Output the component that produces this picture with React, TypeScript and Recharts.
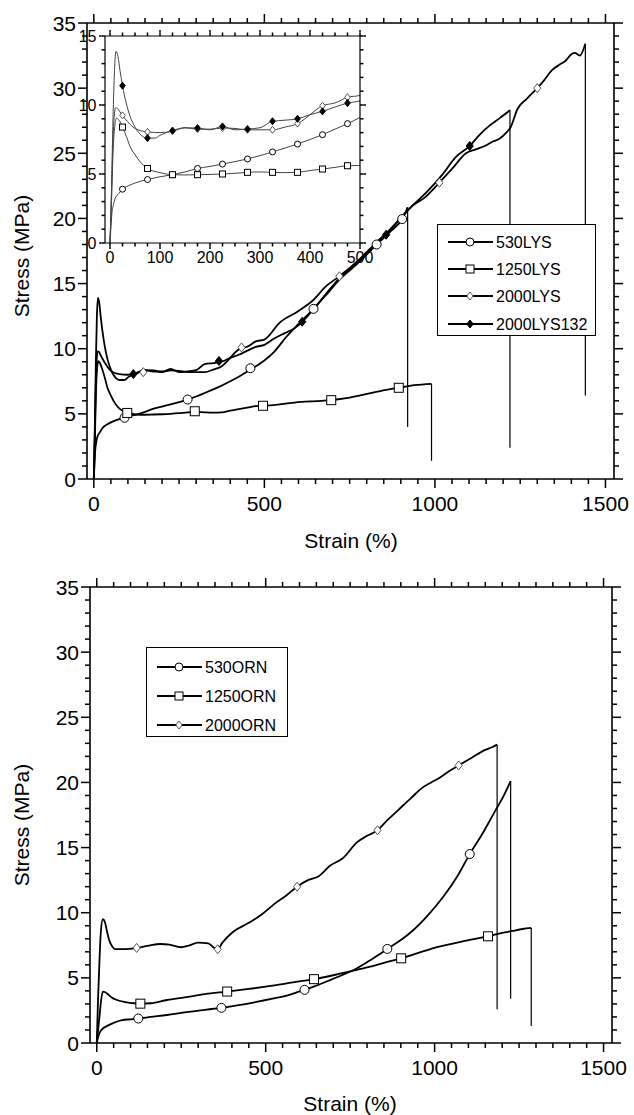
import { ComposedChart, Line, Scatter, XAxis, YAxis } from 'recharts';

type Pt = [number, number];
type Kind = 'circle' | 'square' | 'diamond' | 'filled';

const FONT = '"Liberation Sans", Arial, Helvetica, sans-serif';

// ---- top panel (LYS), strain % vs stress MPa ----
const lys530: Pt[] = [
  [0, 0], [2, 1.2], [4, 2.2], [7, 2.8], [10, 3.2], [18, 3.6], [25, 3.9], [40, 4.2], [50, 4.35], [75, 4.6],
  [100, 4.8], [125, 4.95], [150, 5.15], [175, 5.4], [200, 5.55], [225, 5.72], [250, 5.9], [275, 6.09],
  [300, 6.33], [325, 6.6], [350, 6.88], [375, 7.17], [400, 7.5], [425, 7.85], [450, 8.25], [475, 8.65],
  [500, 9.1], [530, 9.8], [564, 10.9], [600, 11.9], [644, 13.06], [680, 14.1], [720, 15.3], [780, 16.7],
  [829, 18.0], [870, 19.0], [904, 19.95], [920, 20.85],
];
const lys1250: Pt[] = [
  [0, 0], [3, 3], [6, 6.5], [10, 8.6], [13, 9.05], [18, 8.9], [25, 8.4], [33, 7.7], [40, 7.0], [50, 6.4],
  [60, 5.9], [75, 5.4], [100, 5.1], [125, 4.95], [150, 4.93], [175, 4.95], [200, 4.97], [225, 5.0],
  [250, 5.05], [275, 5.12], [300, 5.15], [325, 5.12], [350, 5.1], [375, 5.12], [400, 5.25], [425, 5.36],
  [450, 5.48], [475, 5.6], [500, 5.62], [550, 5.75], [589, 5.87], [650, 5.98], [696, 6.05], [740, 6.2],
  [788, 6.45], [840, 6.75], [894, 7.0], [940, 7.2], [990, 7.3],
];
const lys2000: Pt[] = [
  [0, 0], [3, 3.5], [6, 7.5], [9, 9.4], [11, 9.8], [15, 9.75], [20, 9.5], [25, 9.25], [35, 8.8], [50, 8.3],
  [75, 8.05], [100, 8.0], [125, 8.1], [150, 8.35], [175, 8.25], [200, 8.25], [225, 8.33], [250, 8.3],
  [275, 8.2], [300, 8.2], [325, 8.2], [350, 8.4], [375, 8.65], [390, 9.0], [400, 9.3], [425, 9.95],
  [450, 10.15], [475, 10.56], [500, 10.7], [545, 12.0], [600, 12.9], [642, 13.7], [681, 14.8], [720, 15.56],
  [780, 16.9], [830, 18.2], [870, 19.2], [905, 20.2], [935, 21.0], [970, 21.6], [1013, 22.75], [1050, 23.8],
  [1091, 25.0], [1120, 25.3], [1149, 25.6], [1170, 25.9], [1188, 26.1], [1210, 26.6], [1222, 27.0],
  [1242, 28.4], [1270, 29.2], [1300, 30.0], [1320, 30.6], [1344, 31.4], [1365, 31.8], [1383, 32.1],
  [1400, 32.6], [1410, 32.7], [1425, 32.5], [1441, 33.4],
];
const lys2000_132: Pt[] = [
  [0, 0], [3, 4], [6, 9], [9, 12.5], [12, 13.9], [16, 13.5], [20, 12.5], [25, 11.4], [32, 10.2], [40, 9.2],
  [50, 8.4], [60, 7.9], [75, 7.6], [90, 7.6], [100, 7.8], [125, 8.15], [150, 8.35], [175, 8.33], [200, 8.2],
  [225, 8.45], [250, 8.2], [275, 8.26], [300, 8.35], [325, 8.82], [350, 8.9], [375, 9.0], [400, 9.3],
  [425, 9.54], [450, 9.85], [475, 10.14], [500, 10.3], [530, 10.8], [560, 11.2], [590, 11.6], [611, 12.07],
  [640, 12.9], [680, 14.2], [720, 15.4], [760, 16.3], [800, 17.3], [857, 18.75], [900, 20.0], [935, 21.0],
  [975, 22.0], [1020, 23.3], [1061, 24.7], [1102, 25.56], [1130, 26.4], [1159, 27.1], [1190, 27.7],
  [1220, 28.3],
];
// stress at the bottom of the break line
const lysDrops = [4.0, 1.4, 6.4, 2.4];

const lysMarks530: Pt[] = [[90, 4.7], [275, 6.1], [459, 8.5], [644, 13.06], [829, 18.0], [904, 19.95]];
const lysMarks1250: Pt[] = [[98, 5.07], [296, 5.2], [496, 5.62], [696, 6.05], [894, 7.0]];
const lysMarks2000: Pt[] = [[145, 8.2], [433, 10.1], [720, 15.56], [1013, 22.75], [1300, 30.0]];
const lysMarks2000_132: Pt[] = [[116, 8.05], [367, 9.06], [611, 12.07], [857, 18.75], [1102, 25.56]];

// inset markers (same curves, 0-500 %)
const insetMarkX = [25, 75, 125, 175, 225, 275, 325, 375, 425, 475];
const inset530 = [3.9, 4.6, 4.95, 5.4, 5.72, 6.09, 6.6, 7.17, 7.85, 8.65];
const inset1250 = [8.4, 5.4, 4.95, 4.95, 5.0, 5.12, 5.12, 5.12, 5.36, 5.6];
const inset2000 = [9.25, 8.05, 8.1, 8.25, 8.33, 8.2, 8.2, 8.65, 9.95, 10.56];
const inset2000_132 = [11.4, 7.6, 8.15, 8.33, 8.45, 8.26, 8.82, 9.0, 9.54, 10.14];

// ---- bottom panel (ORN) ----
const orn530: Pt[] = [
  [0, 0], [4, 0.45], [8, 0.75], [13, 0.97], [20, 1.15], [34, 1.35], [50, 1.55], [75, 1.75], [100, 1.82],
  [123, 1.88], [160, 2.0], [208, 2.15], [260, 2.35], [320, 2.55], [369, 2.7], [420, 2.9], [463, 3.1],
  [520, 3.4], [570, 3.7], [615, 4.08], [650, 4.4], [688, 4.8], [725, 5.2], [760, 5.6], [800, 6.2],
  [830, 6.7], [860, 7.22], [900, 7.9], [934, 8.6], [980, 9.8], [1025, 11.2], [1065, 12.7], [1104, 14.5],
  [1140, 16.0], [1179, 17.8], [1205, 19.0], [1225, 20.1],
];
const orn1250: Pt[] = [
  [0, 0], [4, 1.0], [8, 2.0], [13, 3.3], [18, 3.95], [25, 3.9], [35, 3.7], [44, 3.5], [60, 3.3], [85, 3.14],
  [110, 3.05], [129, 3.02], [160, 3.05], [208, 3.3], [260, 3.5], [320, 3.75], [386, 3.95], [450, 4.15],
  [520, 4.4], [580, 4.65], [643, 4.9], [700, 5.2], [750, 5.5], [800, 5.8], [850, 6.15], [901, 6.5],
  [950, 6.9], [1000, 7.3], [1050, 7.6], [1100, 7.9], [1158, 8.19], [1200, 8.45], [1230, 8.6], [1260, 8.75],
  [1286, 8.83],
];
const orn2000: Pt[] = [
  [0, 0], [4, 3.5], [8, 6.3], [12, 8.5], [18, 9.5], [24, 9.3], [30, 8.6], [38, 7.8], [46, 7.4], [54, 7.2],
  [80, 7.2], [118, 7.3], [150, 7.45], [188, 7.6], [215, 7.55], [249, 7.35], [275, 7.5], [300, 7.7],
  [330, 7.65], [345, 7.35], [358, 7.2], [372, 7.7], [402, 8.5], [453, 9.26], [490, 9.9], [525, 10.66],
  [560, 11.3], [593, 12.0], [625, 12.5], [657, 12.8], [690, 13.6], [729, 14.2], [770, 15.4], [800, 15.9],
  [831, 16.33], [860, 17.1], [893, 17.9], [930, 18.8], [964, 19.6], [990, 20.0], [1015, 20.36],
  [1045, 20.9], [1071, 21.3], [1110, 21.9], [1150, 22.5], [1170, 22.7], [1185, 22.9],
];
const ornDrops = [3.4, 1.3, 2.6];

const ornMarks530: Pt[] = [[123, 1.88], [369, 2.7], [615, 4.08], [860, 7.22], [1104, 14.5]];
const ornMarks1250: Pt[] = [[129, 3.02], [386, 3.95], [643, 4.9], [901, 6.5], [1158, 8.19]];
const ornMarks2000: Pt[] = [[118, 7.3], [358, 7.2], [593, 12.0], [831, 16.33], [1071, 21.3]];

const lysNames = ['530LYS', '1250LYS', '2000LYS', '2000LYS132'];
const ornNames = ['530ORN', '1250ORN', '2000ORN'];

const mainXTicks = Array.from({ length: 31 }, (_, i) => i * 50);
const mainYTicks = Array.from({ length: 36 }, (_, i) => i);
const insetXTicks = Array.from({ length: 21 }, (_, i) => i * 25);
const insetYTicks = Array.from({ length: 16 }, (_, i) => i);

const rows = (pts: Pt[]) => pts.map(([x, y]) => ({ x, y }));
const dropRows = (pts: Pt[], bottom: number) => {
  const [x, y] = pts[pts.length - 1];
  return [{ x, y }, { x, y: bottom }];
};

function Marker({ kind, cx, cy, size, stroke = '#000' }: { kind: Kind; cx: number; cy: number; size: number; stroke?: string }) {
  const h = size / 2;
  if (kind === 'circle') return <circle cx={cx} cy={cy} r={h} fill="#fff" stroke={stroke} strokeWidth={1} />;
  if (kind === 'square') return <rect x={cx - h} y={cy - h} width={size} height={size} fill="#fff" stroke={stroke} strokeWidth={1} />;
  const pts = `${cx},${cy - h} ${cx + h * 0.8},${cy} ${cx},${cy + h} ${cx - h * 0.8},${cy}`;
  if (kind === 'filled') return <polygon points={pts} fill="#000" stroke="#000" strokeWidth={1} />;
  return <polygon points={pts} fill="#fff" stroke="#555" strokeWidth={1} />;
}

// built-in tick line gives the short tick; majors get an extension and a label
type TickOpts = { side: 'bottom' | 'top' | 'left' | 'right'; major: number; ext: number; label?: boolean; fontSize?: number; gap?: number };

function makeTick(o: TickOpts) {
  return (p: any) => {
    const x = Number(p.x);
    const y = Number(p.y);
    const v = Number(p.payload?.value);
    const isMajor = Math.abs(v % o.major) < 1e-6;
    const fs = o.fontSize ?? 21;
    const gap = o.gap ?? 0;
    const e = isMajor ? o.ext : 0;
    const ink = { stroke: '#000', strokeWidth: 1.5, fill: 'none' };
    if (o.side === 'bottom') {
      return (
        <g>
          {e > 0 && <path d={`M${x},${y}V${y + e}`} {...ink} />}
          {o.label && isMajor && (
            <text x={x} y={y + gap} textAnchor="middle" fontSize={fs} fontFamily={FONT} fill="#000">{v}</text>
          )}
        </g>
      );
    }
    if (o.side === 'top') {
      return <g>{e > 0 && <path d={`M${x},${y}V${y - e}`} {...ink} />}</g>;
    }
    if (o.side === 'left') {
      return (
        <g>
          {e > 0 && <path d={`M${x},${y}H${x - e}`} {...ink} />}
          {o.label && isMajor && (
            <text x={x - gap} y={y} dy="0.36em" textAnchor="end" fontSize={fs} fontFamily={FONT} fill="#000">{v}</text>
          )}
        </g>
      );
    }
    return <g>{e > 0 && <path d={`M${x},${y}H${x + e}`} {...ink} />}</g>;
  };
}

type FrameOpts = { xDomain: number[]; yDomain: number[]; xTicks: number[]; yTicks: number[]; xMajor: number; yMajor: number; leftWidth: number; bottomHeight: number; inset?: boolean };

function frame(o: FrameOpts) {
  const minor = o.inset ? 3.5 : 5;
  const ext = o.inset ? 2.5 : 4;
  const fs = o.inset ? 16 : 21;
  const tl = { stroke: '#000', strokeWidth: 1.5 };
  const al = { stroke: '#000', strokeWidth: o.inset ? 1.2 : 1.6 };
  return [
    <XAxis key="xb" xAxisId="b" dataKey="x" type="number" domain={o.xDomain} ticks={o.xTicks} interval={0} allowDataOverflow
      height={o.bottomHeight} tickSize={minor} tickMargin={0} tickLine={tl} axisLine={al}
      tick={makeTick({ side: 'bottom', major: o.xMajor, ext, label: true, fontSize: fs, gap: o.inset ? 16 : 27 })} />,
    <XAxis key="xt" xAxisId="t" orientation="top" dataKey="x" type="number" domain={o.xDomain} ticks={o.xTicks} interval={0} allowDataOverflow
      height={1} tickSize={minor} tickMargin={0} tickLine={tl} axisLine={al}
      tick={makeTick({ side: 'top', major: o.xMajor, ext })} />,
    <YAxis key="yl" yAxisId="l" dataKey="y" type="number" domain={o.yDomain} ticks={o.yTicks} interval={0} allowDataOverflow
      width={o.leftWidth} tickSize={minor} tickMargin={0} tickLine={tl} axisLine={al}
      tick={makeTick({ side: 'left', major: o.yMajor, ext, label: true, fontSize: fs, gap: o.inset ? 5 : 6 })} />,
    <YAxis key="yr" yAxisId="r" orientation="right" dataKey="y" type="number" domain={o.yDomain} ticks={o.yTicks} interval={0} allowDataOverflow
      width={1} tickSize={minor} tickMargin={0} tickLine={tl} axisLine={al}
      tick={makeTick({ side: 'right', major: o.yMajor, ext })} />,
  ];
}

function seriesLines(curves: Pt[][], drops: number[], width: number, color: string) {
  const out: any[] = [];
  curves.forEach((c, i) => {
    out.push(
      <Line key={`c${i}`} data={rows(c)} xAxisId="b" yAxisId="l" dataKey="y" type="monotone" stroke={color}
        strokeWidth={width} dot={false} isAnimationActive={false} />,
    );
    out.push(
      <Line key={`d${i}`} data={dropRows(c, drops[i])} xAxisId="b" yAxisId="l" dataKey="y" type="linear" stroke={color}
        strokeWidth={1.2} dot={false} isAnimationActive={false} />,
    );
  });
  return out;
}

function markerSet(key: string, pts: Pt[], kind: Kind, size: number) {
  return (
    <Scatter key={key} data={rows(pts)} xAxisId="b" yAxisId="l" dataKey="y" isAnimationActive={false}
      shape={(p: any) => <Marker kind={kind} cx={p.cx} cy={p.cy} size={size} />} />
  );
}

function LegendBox({ left, top, width, height, names, kinds, rowY }: { left: number; top: number; width: number; height: number; names: string[]; kinds: Kind[]; rowY: number[] }) {
  return (
    <div style={{ position: 'absolute', left, top, width, height, border: '1.5px solid #000', background: '#fff', boxSizing: 'border-box' }}>
      <svg width={width} height={height} style={{ position: 'absolute', left: 0, top: 0 }}>
        {names.map((n, i) => (
          <g key={n}>
            <line x1={10} x2={55} y1={rowY[i]} y2={rowY[i]} stroke="#000" strokeWidth={2} />
            <Marker kind={kinds[i]} cx={32} cy={rowY[i]} size={8} />
            <text x={58} y={rowY[i]} dy="0.36em" fontSize={16} fontFamily={FONT} fill="#000">{n}</text>
          </g>
        ))}
      </svg>
    </div>
  );
}

const lysCurves = [lys530, lys1250, lys2000, lys2000_132];
const ornCurves = [orn530, orn1250, orn2000];
const insetRows = (vals: number[]): Pt[] => insetMarkX.map((x, i) => [x, vals[i]]);

export default function App() {
  const title: React.CSSProperties = { position: 'absolute', fontFamily: FONT, fontSize: 21, color: '#000', whiteSpace: 'nowrap' };
  return (
    <div style={{ position: 'relative', width: 634, height: 1115, background: '#fff', fontFamily: FONT }}>
      <style>{'body{margin:0}'}</style>

      {/* top panel */}
      <div style={{ position: 'absolute', left: 0, top: 0 }}>
        <ComposedChart width={634} height={557} margin={{ top: 22, right: 19, bottom: 0, left: 0 }}>
          {frame({ xDomain: [-20, 1525], yDomain: [0, 35], xTicks: mainXTicks, yTicks: mainYTicks, xMajor: 500, yMajor: 5, leftWidth: 87, bottomHeight: 78 })}
          {seriesLines(lysCurves, lysDrops, 1.8, '#000')}
          {markerSet('m0', lysMarks530, 'circle', 9)}
          {markerSet('m1', lysMarks1250, 'square', 9)}
          {markerSet('m2', lysMarks2000, 'diamond', 9)}
          {markerSet('m3', lysMarks2000_132, 'filled', 9)}
        </ComposedChart>
      </div>

      {/* inset */}
      <div style={{ position: 'absolute', left: 60, top: 16 }}>
        <ComposedChart width={320} height={270} margin={{ top: 19, right: 19, bottom: 0, left: 0 }}>
          {frame({ xDomain: [-10, 500], yDomain: [0, 15], xTicks: insetXTicks, yTicks: insetYTicks, xMajor: 100, yMajor: 5, leftWidth: 45, bottomHeight: 43, inset: true })}
          {seriesLines(lysCurves, lysDrops, 1, '#444')}
          {markerSet('i0', insetRows(inset530), 'circle', 6)}
          {markerSet('i1', insetRows(inset1250), 'square', 6)}
          {markerSet('i2', insetRows(inset2000), 'diamond', 7)}
          {markerSet('i3', insetRows(inset2000_132), 'filled', 7)}
        </ComposedChart>
      </div>

      <LegendBox left={437} top={224} width={159} height={112} names={lysNames}
        kinds={['circle', 'square', 'diamond', 'filled']} rowY={[17, 44, 71, 99]} />

      {/* bottom panel */}
      <div style={{ position: 'absolute', left: 0, top: 557 }}>
        <ComposedChart width={634} height={558} margin={{ top: 29, right: 21, bottom: 0, left: 0 }}>
          {frame({ xDomain: [-20, 1525], yDomain: [0, 35], xTicks: mainXTicks, yTicks: mainYTicks, xMajor: 500, yMajor: 5, leftWidth: 90, bottomHeight: 72 })}
          {seriesLines(ornCurves, ornDrops, 1.8, '#000')}
          {markerSet('o0', ornMarks530, 'circle', 9)}
          {markerSet('o1', ornMarks1250, 'square', 9)}
          {markerSet('o2', ornMarks2000, 'diamond', 9)}
        </ComposedChart>
      </div>

      <LegendBox left={146} top={647} width={142} height={90} names={ornNames}
        kinds={['circle', 'square', 'diamond']} rowY={[19, 48, 77]} />

      {/* axis titles */}
      <div style={{ ...title, left: 351, top: 541, transform: 'translate(-50%, -50%)' }}>Strain (%)</div>
      <div style={{ ...title, left: 350, top: 1104, transform: 'translate(-50%, -50%)' }}>Strain (%)</div>
      <div style={{ ...title, left: 22, top: 256, transform: 'translate(-50%, -50%) rotate(-90deg)' }}>Stress (MPa)</div>
      <div style={{ ...title, left: 22, top: 825, transform: 'translate(-50%, -50%) rotate(-90deg)' }}>Stress (MPa)</div>
    </div>
  );
}
